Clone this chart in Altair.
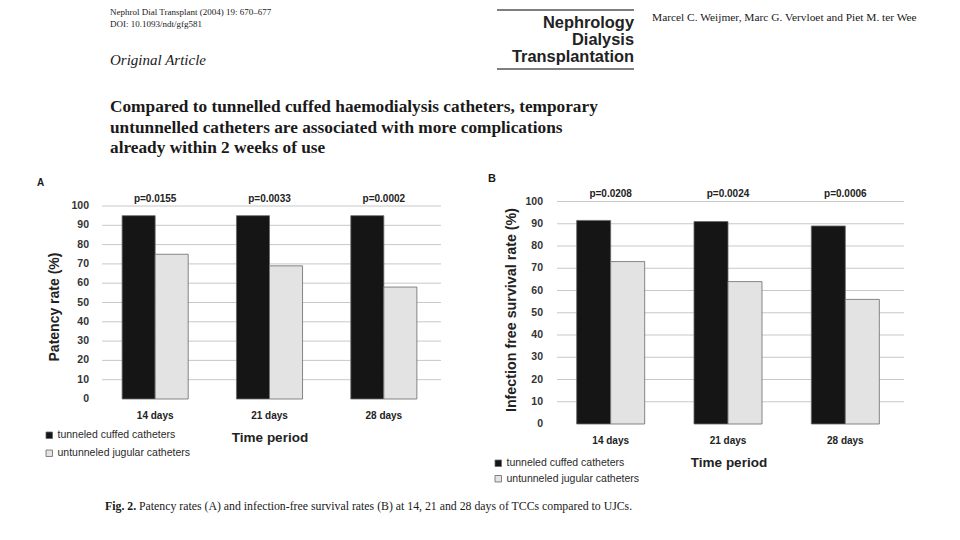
import altair as alt
import pandas as pd

# ---------------- data ----------------
categories = ["14 days", "21 days", "28 days"]
series = ["tunneled cuffed catheters", "untunneled jugular catheters"]
patency_tcc = [95, 95, 95]
patency_ujc = [75, 69, 58]
infection_tcc = [91.5, 91, 89]
infection_ujc = [73, 64, 56]
p_patency = ["p=0.0155", "p=0.0033", "p=0.0002"]
p_infection = ["p=0.0208", "p=0.0024", "p=0.0006"]
y_ticks = [0, 10, 20, 30, 40, 50, 60, 70, 80, 90, 100]
grid_values = [10, 20, 30, 40, 50, 60, 70, 80, 90, 100]

journal_ref = "Nephrol Dial Transplant (2004) 19: 670–677"
doi = "DOI: 10.1093/ndt/gfg581"
section = "Original Article"
logo_lines = ["Nephrology", "Dialysis", "Transplantation"]
authors = "Marcel C. Weijmer, Marc G. Vervloet and Piet M. ter Wee"
title_lines = [
    "Compared to tunnelled cuffed haemodialysis catheters, temporary",
    "untunnelled catheters are associated with more complications",
    "already within 2 weeks of use",
]
caption_bold = "Fig. 2."
caption_rest = "Patency rates (A) and infection-free survival rates (B) at 14, 21 and 28 days of TCCs compared to UJCs."

SANS = "Liberation Sans"
SERIF = "Liberation Serif"


def txt(t, x, y, size, font=SANS, weight="normal", style="normal", align="left",
        baseline="alphabetic", color="#1a1a1a", angle=0):
    return alt.Chart(alt.Data(values=[{"t": t}])).mark_text(
        font=font, fontSize=size, fontWeight=weight, fontStyle=style, align=align,
        baseline=baseline, color=color, angle=angle
    ).encode(text="t:N", x=alt.value(x), y=alt.value(y))


def hrule(x1, x2, y, color="#555", width=1.5):
    return alt.Chart(alt.Data(values=[{"a": 1}])).mark_rule(color=color, strokeWidth=width).encode(
        x=alt.value(x1), x2=alt.value(x2), y=alt.value(y))


def panel(tcc, ujc, pvals, xr, yr, grid_x, ytick_x, pval_y, cat_y, ytitle, ytitle_x, ytitle_y,
          ytitle_size, tp_x, tp_y, leg_x, leg_y, leg_row, pad_outer):
    xs = alt.Scale(domain=categories, range=xr, paddingInner=0, paddingOuter=0)
    ys = alt.Scale(domain=[0, 100], range=yr, nice=False, zero=True)
    bars_df = pd.DataFrame({
        "cat": categories * 2,
        "series": [series[0]] * 3 + [series[1]] * 3,
        "val": list(tcc) + list(ujc),
    })
    grid = alt.Chart(pd.DataFrame({"v": grid_values})).mark_rule(
        color="#c8c8c8", strokeWidth=1).encode(
        y=alt.Y("v:Q", scale=ys, axis=None), x=alt.value(grid_x[0]), x2=alt.value(grid_x[1]))
    bars = alt.Chart(bars_df).mark_bar(stroke="#6a6a6a", strokeWidth=0.8).encode(
        x=alt.X("cat:N", scale=xs, axis=None, sort=categories),
        xOffset=alt.XOffset("series:N", sort=series,
                            scale=alt.Scale(domain=series, paddingInner=0, paddingOuter=pad_outer)),
        y=alt.Y("val:Q", scale=ys, axis=None),
        fill=alt.Fill("series:N", scale=alt.Scale(domain=series, range=["#151515", "#e3e3e3"]),
                      legend=alt.Legend(title=None, orient="none", legendX=leg_x, legendY=leg_y,
                                        symbolType="square", symbolSize=42,
                                        symbolStrokeColor="#666", symbolStrokeWidth=0.8,
                                        labelFont=SANS, labelFontSize=10.5, labelColor="#2a2a2a",
                                        labelOffset=3, rowPadding=leg_row, padding=0)),
    )
    yt = alt.Chart(pd.DataFrame({"v": y_ticks})).mark_text(
        font=SANS, fontSize=10.5, fontWeight="bold", align="right", baseline="middle", color="#333"
    ).encode(y=alt.Y("v:Q", scale=ys, axis=None), x=alt.value(ytick_x), text="v:Q")
    pv = alt.Chart(pd.DataFrame({"cat": categories, "p": pvals})).mark_text(
        font=SANS, fontSize=10, fontWeight="bold", align="center", baseline="alphabetic", color="#222"
    ).encode(x=alt.X("cat:N", scale=xs, axis=None, sort=categories), y=alt.value(pval_y), text="p:N")
    cl = alt.Chart(pd.DataFrame({"cat": categories})).mark_text(
        font=SANS, fontSize=10, fontWeight="bold", align="center", baseline="alphabetic", color="#222"
    ).encode(x=alt.X("cat:N", scale=xs, axis=None, sort=categories), y=alt.value(cat_y), text="cat:N")
    yti = txt(ytitle, ytitle_x, ytitle_y, ytitle_size, weight="bold", align="center",
              baseline="middle", angle=270, color="#222")
    tp = txt("Time period", tp_x, tp_y, 13.5, weight="bold", align="center", color="#222")
    return alt.layer(grid, bars, yt, pv, cl, yti, tp)


panelA = panel(patency_tcc, patency_ujc, p_patency, xr=[90, 433], yr=[391, 198],
               grid_x=(94, 433), ytick_x=81, pval_y=194, cat_y=411,
               ytitle="Patency rate (%)", ytitle_x=47, ytitle_y=299, ytitle_size=14,
               tp_x=262, tp_y=434, leg_x=36, leg_y=422, leg_row=7, pad_outer=0.73)
panelB = panel(infection_tcc, infection_ujc, p_infection, xr=[544, 896], yr=[416, 193.5],
               grid_x=(549, 896), ytick_x=535, pval_y=189, cat_y=436,
               ytitle="Infection free survival rate (%)", ytitle_x=504, ytitle_y=302, ytitle_size=14.3,
               tp_x=721, tp_y=459, leg_x=485, leg_y=450, leg_row=4.5, pad_outer=0.725)

header = [
    txt(journal_ref, 102, 7, 9, font=SERIF),
    txt(doi, 102, 18.5, 9, font=SERIF),
    txt(section, 102, 57, 15, font=SERIF, style="italic"),
    txt(authors, 644, 13, 11.4, font=SERIF),
    hrule(489, 626, 2),
    hrule(489, 626, 61),
    txt(logo_lines[0], 626, 20, 16.4, weight="bold", align="right", color="#222"),
    txt(logo_lines[1], 626, 37, 16.4, weight="bold", align="right", color="#222"),
    txt(logo_lines[2], 626, 54, 16.4, weight="bold", align="right", color="#222"),
    txt(title_lines[0], 102, 103.5, 17.3, font=SERIF, weight="bold"),
    txt(title_lines[1], 102, 125, 17.3, font=SERIF, weight="bold"),
    txt(title_lines[2], 102, 145, 17.3, font=SERIF, weight="bold"),
    txt("A", 29, 178, 10, weight="bold"),
    txt("B", 480, 174, 11, weight="bold"),
    txt(caption_bold, 97, 502, 11.8, font=SERIF, weight="bold"),
    txt(caption_rest, 131, 502, 11.8, font=SERIF),
]

chart = alt.layer(*header, panelA, panelB).resolve_scale(
    x="independent", y="independent", fill="independent", xOffset="independent"
).properties(
    width=944, height=524, padding=0, background="white",
    autosize=alt.AutoSizeParams(type="none")
).configure_view(stroke=None, strokeWidth=0)

chart.save("out.html", embed_options={"renderer": "svg", "actions": False})
